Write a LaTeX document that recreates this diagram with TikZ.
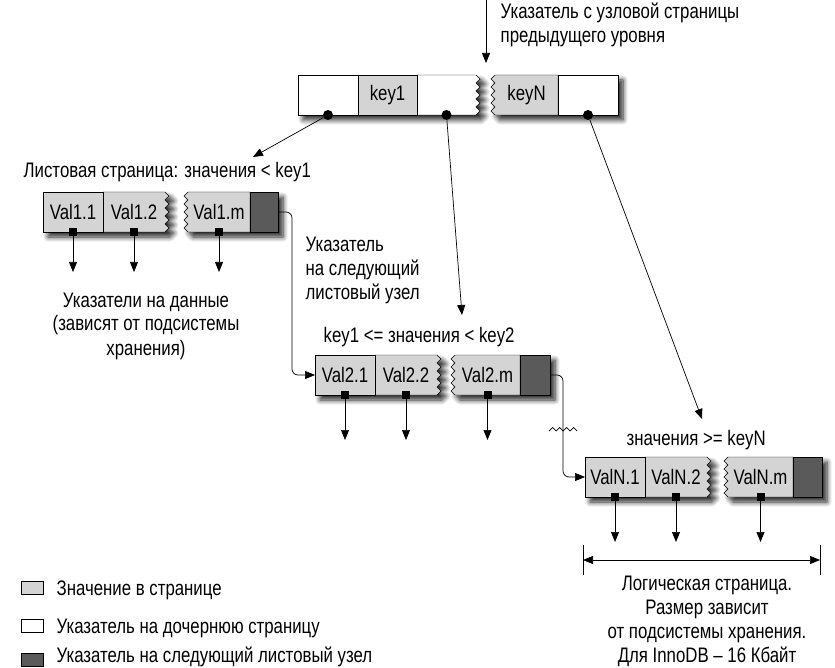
\documentclass[tikz,border=0pt]{standalone}
\usepackage{fontspec}
\setmainfont[FakeStretch=0.8]{Liberation Sans}
\usepackage{tikz}
\usetikzlibrary{arrows.meta, positioning, backgrounds, shadows.blur}
\definecolor{valgray}{RGB}{212,212,212}
\definecolor{nextgray}{RGB}{90,90,90}
\tikzstyle{cell} = [draw, minimum width=60pt, minimum height=40pt, inner sep=0pt, outer sep=0pt]
\tikzstyle{val} = [cell, fill=valgray]
\tikzstyle{ptr} = [cell, fill=white]
\tikzstyle{nxt} = [cell, fill=nextgray, minimum width=28pt]
\tikzstyle{zig} = [cell, draw=none]
\tikzstyle{dot} = [circle, fill, inner sep=0pt, minimum size=10pt]
\tikzstyle{sq} = [fill, inner sep=0pt, minimum size=8pt]
\tikzstyle{arr} = [-{Triangle[length=10pt,width=8pt]}]
\tikzstyle{shade} = [blur shadow={shadow xshift=5pt, shadow yshift=-5pt, shadow blur radius=5pt, shadow blur steps=8, shadow opacity=85}]

\begin{document}
\begin{tikzpicture}[x=1pt, y=-1pt, line width=0.7pt, every node/.style={font=\fontsize{21}{24}\selectfont}]
    \useasboundingbox (0,0) rectangle (835,668);
    % root page
    \node[ptr] (r1) at (328,95) {};
    \node[val, right=0pt of r1, minimum width=59pt] (r2) {key1};
    \node[zig, right=0pt of r2, minimum width=59pt] (r3) {};
    \node[zig, right=19pt of r3, minimum width=63pt] (r4) {keyN};
    \node[ptr, right=0pt of r4] (r5) {};
    % leaf pages
    \node[val] (a1) at (73,212) {Val1.1};
    \node[zig, right=0pt of a1, minimum width=62pt] (a2) {Val1.2};
    \node[zig, right=23pt of a2, minimum width=62pt] (a3) {Val1.m};
    \node[nxt, right=0pt of a3] (a4) {};
    \node[val] (b1) at (345,375) {Val2.1};
    \node[zig, right=0pt of b1, minimum width=62pt] (b2) {Val2.2};
    \node[zig, right=18pt of b2, minimum width=65pt] (b3) {Val2.m};
    \node[nxt, right=0pt of b3, minimum width=30pt] (b4) {};
    \node[val] (c1) at (615,477) {ValN.1};
    \node[zig, right=0pt of c1, minimum width=62pt] (c2) {ValN.2};
    \node[zig, right=21pt of c2, minimum width=65pt] (c3) {ValN.m};
    \node[nxt, right=0pt of c3, minimum width=29pt] (c4) {};
    % shadows and broken cells
    \begin{scope}[on background layer]
    \foreach \lft/\zr/\zl/\rgt/\fa/\fb in {r1/r3/r4/r5/white/valgray, a1/a2/a3/a4/valgray/valgray, b1/b2/b3/b4/valgray/valgray, c1/c2/c3/c4/valgray/valgray} {
        \path[shade] (\lft.north west) -- (\zr.north east) \foreach \i in {1,...,5} {-- ++(4,4) -- ++(-4,4)} -- (\lft.south west) -- cycle;
        \path[shade] (\rgt.north east) -- (\zl.north west) \foreach \i in {1,...,5} {-- ++(-4,4) -- ++(4,4)} -- (\rgt.south east) -- cycle;
        \filldraw[fill=\fa] (\zr.north west) -- (\zr.north east) \foreach \i in {1,...,5} {-- ++(4,4) -- ++(-4,4)} -- (\zr.south west) -- cycle;
        \filldraw[fill=\fb] (\zl.north east) -- (\zl.north west) \foreach \i in {1,...,5} {-- ++(-4,4) -- ++(4,4)} -- (\zl.south east) -- cycle;
    }
    \end{scope}
    % child pointers
    \node[dot] (d1) at (r1.south) {};
    \node[dot] (d3) at (r3.south) {};
    \node[dot] (d5) at (r5.south) {};
    \coordinate (t1) at (253,157);
    \coordinate (t2) at (462,315);
    \coordinate (t3) at (702,419);
    \draw[arr] (d1) -- (t1);
    \draw[arr] (d3) -- (t2);
    \draw[arr] (d5) -- (t3);
    \coordinate (up) at (486,0);
    \coordinate (upend) at (486,63);
    \draw[arr] (up) -- (upend);
    % data pointers
    \foreach \c/\h in {a1/40, a2/40, a3/40, b1/45, b2/45, b3/45, c1/45, c2/45, c3/45} {
        \node[sq] (\c-sq) at (\c.south) {};
        \path (\c-sq) ++(0,\h) coordinate (\c-end);
        \draw[arr] (\c-sq) -- (\c-end);
    }
    % next leaf pointers
    \draw[arr, rounded corners=6pt] (a4.east) -- ++(14,0) |- (b1.west);
    \draw[arr, rounded corners=6pt] (b4.east) -- ++(13,0) coordinate (brk) |- (c1.west);
    \draw (brk) ++(-14,56) \foreach \i in {1,...,4} {-- ++(3.5,-3.5) -- ++(3.5,3.5)};
    % page size
    \coordinate (pl) at (583,560);
    \coordinate (pr) at (820,560);
    \draw (pl) ++(0,-15) -- ++(0,30);
    \draw (pr) ++(0,-15) -- ++(0,30);
    \draw[{Triangle[length=10pt,width=8pt]}-{Triangle[length=10pt,width=8pt]}] (pl) -- (pr);
    % labels
    \node[anchor=base west, align=left] (lup) at (497,43) {Указатель с узловой страницы\\предыдущего уровня};
    \node[anchor=base west] (la) at (20,178) {Листовая страница: значения < key1};
    \node[anchor=base west] (lb) at (320,342) {key1 <= значения < key2};
    \node[anchor=base west] (lc) at (623,445) {значения >= keyN};
    \node[anchor=base west, align=left] (lnext) at (302,300) {Указатель\\на следующий\\листовый узел};
    \node[anchor=base, align=center] (ldata) at (146,355) {Указатели на данные\\(зависят от подсистемы\\хранения)};
    \node[anchor=base, align=center] (lsize) at (707,662) {Логическая страница.\\Размер зависит\\от подсистемы хранения.\\Для InnoDB – 16 Кбайт};
    % legend
    \node[draw, fill=valgray, minimum width=22pt, minimum height=13pt, inner sep=0pt] (k1) at (32,588) {};
    \node[draw, fill=white, minimum width=22pt, minimum height=13pt, inner sep=0pt] (k2) at (32,626) {};
    \node[draw, fill=nextgray, minimum width=22pt, minimum height=13pt, inner sep=0pt] (k3) at (32,660) {};
    \node[anchor=base west] (lk1) at (53,595) {Значение в странице};
    \node[anchor=base west] (lk2) at (53,633) {Указатель на дочернюю страницу};
    \node[anchor=base west] (lk3) at (53,662) {Указатель на следующий листовый узел};
\end{tikzpicture}
\end{document}
